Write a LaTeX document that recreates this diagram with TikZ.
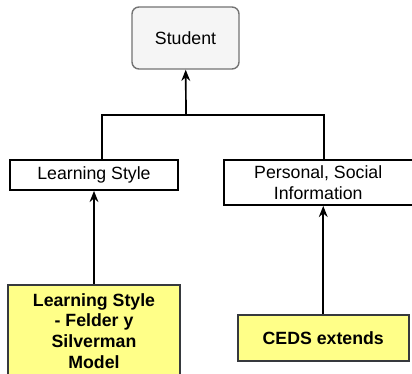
\documentclass[tikz,border=0pt]{standalone}
\usepackage{fontspec}
\setmainfont{Liberation Sans}
\usetikzlibrary{arrows.meta,positioning}
\definecolor{note}{RGB}{255,255,136}
\definecolor{edge}{RGB}{54,57,61}

\begin{document}
\begin{tikzpicture}[
    x=0.025cm, y=-0.025cm,
    font=\fontsize{12.6}{15.4}\selectfont,
    top/.style   = {draw=black!55, rounded corners=5pt, fill=black!4, line width=1pt,
                    minimum width=2.675cm, minimum height=1.55cm},
    plain/.style = {draw=black, line width=1.2pt, align=center, inner sep=0pt},
    note/.style  = {draw=edge, fill=note, line width=1.2pt, align=center, inner sep=0pt,
                    font=\fontsize{12.6}{14.7}\selectfont\bfseries},
    arr/.style   = {-{Stealth[length=0.28cm, width=0.22cm]}, line width=1.2pt},
    link/.style  = {line width=1.2pt},
  ]
    \useasboundingbox (0,0) rectangle (412,373);
    \clip (0,0) rectangle (412,373);

    \node[top] (student) at (185.5,38) {Student};

    \node[plain, minimum width=4.2cm, minimum height=0.75cm] (ls) at (94,175) {Learning Style};
    \node[plain, anchor=north west, minimum width=4.725cm, minimum height=1.125cm]
      (pers) at ([xshift=1.1cm]ls.north east) {Personal, Social\\Information};

    \node[note, below=2.325cm of ls, minimum width=4.3cm, minimum height=2.3cm]
      (fsm) {Learning Style\\- Felder y\\Silverman\\Model};
    \node[note, below=2.7cm of pers, xshift=0.125cm, minimum width=4.275cm, minimum height=1.15cm]
      (ceds) {CEDS extends};

    \coordinate (bus) at (186,115);
    \draw[link] ([xshift=0.2cm]ls.north) |- (bus) -| ([xshift=0.14cm]pers.north);
    \draw[arr] (bus) -- (student);
    \draw[arr] (fsm) -- (ls);
    \draw[arr] (ceds) -- (ceds |- pers.south);
  \end{tikzpicture}
\end{document}
